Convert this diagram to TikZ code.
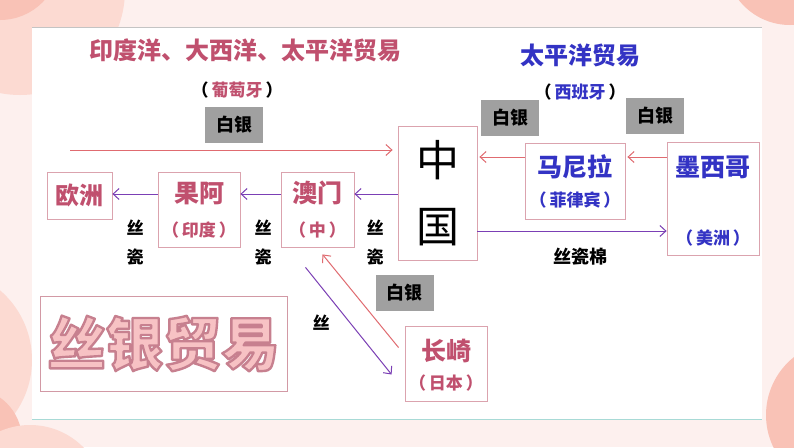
\documentclass[tikz,border=0pt]{standalone}
\usepackage{fontspec}
\setmainfont{Noto Sans CJK SC}
\usetikzlibrary{calc,arrows.meta}
\definecolor{rosetxt}{HTML}{C0506E}
\definecolor{bluetxt}{HTML}{3333C4}
\definecolor{arrred}{HTML}{E06B70}
\definecolor{arrpur}{HTML}{7B3FB5}
\definecolor{boxline}{HTML}{DBA3AE}
\definecolor{graybg}{HTML}{A0A0A0}
\definecolor{pinkbg}{HTML}{FDF0EE}
\definecolor{salmonA}{HTML}{FCDAD2}
\definecolor{salmonB}{HTML}{F9C2B6}
\definecolor{topline}{HTML}{C4C4C4}
\definecolor{botline}{HTML}{A8DAD6}
\definecolor{pinkfill}{HTML}{F7C2C4}
\definecolor{pinkline}{HTML}{C77F8F}
\newcommand{\blackparen}[2]{\textcolor{black}{（}\hspace{3pt}\textcolor{#1}{#2}\hspace{3pt}\textcolor{black}{）}}
\newcommand{\placenote}[1]{（\hspace{3pt}#1\hspace{3pt}）}
\newcommand{\hollowtext}[1]{\textcolor{pinkfill}{\special{pdf:literal direct q 0.78 0.5 0.56 RG 2.4 w 1 j 2 Tr}#1\special{pdf:literal direct 0 Tr Q}}}

\begin{document}
\begin{tikzpicture}[x=1pt,y=-1pt]
\tikzstyle{every node}+=[inner sep=0pt]
\tikzstyle{box}=[draw=boxline,line width=0.8pt,fill=white]
\tikzstyle{yinbox}=[fill=graybg,minimum width=58,minimum height=36,font=\fontsize{18}{18}\selectfont\bfseries]
\tikzstyle{silver}=[draw=arrred,line width=1pt,-{Straight Barb[length=6pt,width=11pt]}]
\tikzstyle{silk}=[draw=arrpur,line width=1pt,-{Straight Barb[length=6pt,width=11pt]}]
\tikzstyle{goods}=[font=\fontsize{17}{29}\selectfont\bfseries,align=center]
\tikzstyle{pname}=[text=rosetxt,font=\fontsize{25}{25}\selectfont\bfseries]
\tikzstyle{pnote}=[text=rosetxt,font=\fontsize{17}{17}\selectfont\bfseries]
\tikzstyle{sname}=[pname,text=bluetxt]
\tikzstyle{snote}=[pnote,text=bluetxt]
\useasboundingbox (0,0) rectangle (794,447);
\fill[pinkbg] (0,0) rectangle (794,447);
\fill[salmonA] (20,-10) circle (105);
\fill[salmonB] (0,-40) circle (60);
\fill[salmonB] (790,-40) circle (65);
\fill[salmonB] (840,415) circle (74);
\fill[salmonA] (-60,360) circle (92);
\fill[salmonB] (-30,440) circle (52);
\fill[salmonA] (30,500) circle (75);
\fill[white] (32,27) rectangle (762,419);
\draw[topline] (32,27) -- (762,27);
\draw[botline,line width=1pt] (32,419) -- (762,419);

\node[text=rosetxt,font=\fontsize{24}{24}\selectfont\bfseries] (titleA) at (245,50) {印度洋、大西洋、太平洋贸易};
\node[pnote] (subA) at (237,90) {\blackparen{rosetxt}{葡萄牙}};
\node[text=bluetxt,font=\fontsize{24}{24}\selectfont\bfseries] (titleB) at (580,55) {太平洋贸易};
\node[snote] (subB) at (580,92) {\blackparen{bluetxt}{西班牙}};

\node[box,minimum width=79,minimum height=134] (china) at (437.5,193) {};
\node[font=\fontsize{43}{43}\selectfont] (zhong) at (437.5,160) {中};
\node[font=\fontsize{43}{43}\selectfont] (guo) at (437.5,227) {国};

\node[box,minimum width=100,minimum height=76] (manila) at (575,181) {};
\node[sname] (manilaA) at (575,167) {马尼拉};
\node[snote] (manilaB) at (575,200) {\placenote{菲律宾}};
\node[box,minimum width=92,minimum height=113] (mexico) at (713,198.5) {};
\node[sname] (mexicoA) at (713,167) {墨西哥};
\node[snote] (mexicoB) at (713,238) {\placenote{美洲}};

\node[box,minimum width=65,minimum height=47] (europe) at (79.5,195.5) {};
\node[pname,font=\fontsize{24}{24}\selectfont\bfseries] (europeA) at (79.5,195.5) {欧洲};
\node[box,minimum width=82,minimum height=75] (goa) at (199,209.5) {};
\node[pname] (goaA) at (199,193) {果阿};
\node[pnote] (goaB) at (199,230) {\placenote{印度}};
\node[box,minimum width=73,minimum height=75] (macao) at (317.5,209.5) {};
\node[pname] (macaoA) at (317.5,193) {澳门};
\node[pnote] (macaoB) at (317.5,230) {\placenote{中}};
\node[box,minimum width=82,minimum height=75] (nagasaki) at (446,363.5) {};
\node[pname] (nagasakiA) at (446,351) {长崎};
\node[pnote] (nagasakiB) at (446,383) {\placenote{日本}};

\node[yinbox] (yinA) at (234,125) {白银};
\node[yinbox] (yinB) at (510,117.5) {白银};
\node[yinbox] (yinC) at (655,115.5) {白银};
\node[yinbox] (yinD) at (404.5,293) {白银};

\coordinate (west) at (70,150);
\coordinate (rowA) at (0,157);
\coordinate (rowB) at (0,194);
\coordinate (rowC) at (0,231);
\draw[silver,shorten >=5pt] (west) -- (west -| china.west);
\draw[silver,shorten >=2pt] (manila.west |- rowA) -- (china.east |- rowA);
\draw[silver,shorten >=2pt] (mexico.west |- rowA) -- (manila.east |- rowA);
\draw[silk] (china.east |- rowC) -- (mexico.west |- rowC);
\draw[silk] (china.west |- rowB) -- (macao.east |- rowB);
\draw[silk] (macao.west |- rowB) -- (goa.east |- rowB);
\draw[silk] (goa.west |- rowB) -- (europe.east |- rowB);
\draw[silver] ($(nagasaki.north west)+(-6,22)$) -- ($(macao.south)+(5,7)$);
\draw[silk] ($(macao.south)+(-12,20)$) -- ($(nagasaki.west)+(-13,11)$);

\node[goods] (goodsA) at (135,243) {丝\\瓷};
\node[goods] (goodsB) at (263,243) {丝\\瓷};
\node[goods] (goodsC) at (375,243) {丝\\瓷};
\node[goods] (goodsD) at (321,323) {丝};
\node[goods,font=\fontsize{18}{18}\selectfont\bfseries] (goodsE) at (580,257) {丝瓷棉};

\node[box,draw=pinkline!80,minimum width=247,minimum height=95] (sybox) at (163.5,343.5) {};
\node[font=\fontsize{58}{58}\selectfont\bfseries] (sytext) at (163.5,343.5) {\hollowtext{丝银贸易}};
\end{tikzpicture}
\end{document}
